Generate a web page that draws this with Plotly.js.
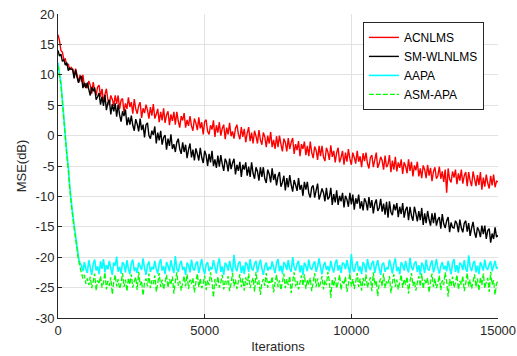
<!DOCTYPE html>
<html>
<head>
<meta charset="utf-8">
<script src="https://cdn.plot.ly/plotly-3.0.1.min.js"></script>
<style>html,body{margin:0;padding:0;background:#fff;}#chart{width:517px;height:356px;}</style>
</head>
<body>
<div id="chart"></div>
<script>
// sample spacing of the curves (iterations between stored points)
const iterStep = 50;

const seriesNames = ['ACNLMS', 'SM-WLNLMS', 'AAPA', 'ASM-APA'];

const acnlms = [
16.6,15.6,14.0,13.7,12.5,12.6,11.5,11.8,10.8,11.2,
10.9,9.7,11.0,10.0,8.8,10.0,8.9,10.0,8.0,8.6,
7.8,9.0,8.3,6.9,8.8,7.4,6.6,8.0,8.3,6.4,
7.7,5.6,6.7,7.7,5.9,5.0,6.6,6.0,4.9,6.6,
5.2,6.6,4.4,5.8,6.1,3.9,5.3,4.4,6.3,4.7,
5.5,3.6,6.0,4.4,3.6,4.9,5.5,2.9,4.5,3.7,
5.1,4.2,2.8,4.7,3.3,5.2,2.8,3.5,4.4,2.2,
3.9,2.5,4.5,2.1,3.4,4.0,1.7,3.5,2.4,3.9,
1.8,3.9,2.4,1.3,3.2,2.5,3.7,1.3,2.6,1.6,
3.2,1.6,0.8,2.8,2.1,0.9,3.0,1.2,2.2,0.2,
2.3,2.6,0.7,0.2,1.7,1.0,2.5,-0.2,1.7,0.5,
2.2,0.0,1.2,1.8,-0.6,1.3,0.2,2.1,-0.1,0.7,
-0.5,1.2,1.8,0.2,-0.6,1.4,-0.2,1.1,-1.1,0.4,
1.4,-0.9,0.5,-1.3,0.8,-0.1,-1.3,0.9,-0.7,-1.5,
0.5,-0.2,-1.9,0.0,-1.3,0.6,-1.9,-0.7,-2.2,-0.1,
-1.9,0.0,-1.4,-2.6,-0.5,-1.1,-2.6,-0.4,-2.2,-1.1,
-0.4,-3.0,-1.4,-2.4,-0.9,-3.4,-1.4,-2.2,-1.0,-3.2,
-1.7,-3.4,-1.0,-2.8,-3.7,-1.8,-2.4,-4.0,-1.7,-3.4,
-1.7,-3.5,-4.2,-2.0,-2.7,-4.0,-1.6,-3.5,-2.5,-4.4,
-2.8,-2.0,-4.4,-3.6,-2.5,-4.8,-2.8,-4.3,-2.2,-3.8,
-4.8,-2.8,-3.6,-4.6,-2.5,-4.3,-3.4,-5.2,-2.9,-4.2,
-2.8,-4.6,-5.4,-3.6,-3.2,-5.2,-4.0,-2.8,-5.3,-4.6,
-3.5,-4.1,-5.6,-3.3,-5.2,-4.7,-3.2,-6.0,-4.1,-5.6,
-3.5,-5.9,-4.4,-5.3,-3.9,-6.3,-4.4,-5.0,-6.2,-3.9,
-5.8,-4.3,-6.7,-4.9,-5.7,-4.3,-6.7,-5.4,-7.0,-4.9,
-5.6,-7.0,-4.8,-6.6,-5.3,-7.5,-5.9,-5.2,-7.1,-6.6,
-5.1,-7.1,-5.9,-7.6,-5.6,-9.4,-5.4,-7.2,-7.7,-5.9,
-6.9,-5.6,-8.0,-6.2,-7.4,-5.6,-7.9,-6.6,-6.0,-8.3,
-6.0,-7.4,-8.3,-5.9,-7.1,-8.3,-6.5,-8.1,-6.0,-8.9,
-6.9,-8.4,-6.4,-7.8,-8.7,-6.6,-8.2,-6.4,-8.5,-7.5,
-7.6];

const smwlnlms = [
14.0,13.1,13.4,12.2,12.5,11.6,12.0,10.7,11.1,10.9,
10.9,9.4,10.8,9.6,8.7,9.5,9.8,7.8,8.7,7.8,
8.7,7.6,6.6,8.0,7.3,7.9,5.9,6.4,7.0,5.1,
6.4,4.9,6.7,4.2,5.4,5.9,3.5,5.2,4.0,5.3,
3.1,5.1,3.4,2.3,4.0,3.2,4.3,1.7,3.0,1.8,
3.3,1.7,0.8,2.7,1.9,0.7,2.8,0.9,1.8,-0.3,
1.8,2.1,0.0,-0.5,0.8,0.1,1.5,-1.3,0.5,-0.8,
0.8,-1.5,-0.3,0.1,-2.3,-0.5,-1.7,0.2,-2.2,-1.4,
-2.7,-1.1,-0.5,-2.2,-3.0,-1.1,-2.7,-1.5,-3.7,-2.3,
-1.3,-3.6,-2.3,-4.1,-2.1,-3.0,-4.1,-2.0,-3.6,-4.5,
-2.5,-3.2,-5.0,-3.0,-4.4,-2.5,-5.0,-3.9,-5.3,-3.3,
-5.1,-3.2,-4.7,-5.8,-3.8,-4.4,-5.9,-3.8,-5.5,-4.5,
-3.8,-6.4,-4.8,-5.8,-4.3,-6.8,-4.8,-5.6,-4.4,-6.6,
-5.1,-6.8,-4.4,-6.2,-7.1,-5.2,-5.9,-7.4,-5.2,-6.8,
-5.2,-7.1,-7.8,-5.6,-6.3,-7.7,-5.4,-7.3,-6.3,-8.2,
-6.7,-6.0,-8.4,-7.7,-6.6,-9.0,-7.0,-8.5,-6.5,-8.1,
-9.2,-7.3,-8.1,-9.1,-7.0,-8.9,-8.1,-9.9,-7.6,-8.9,
-7.6,-9.5,-10.2,-8.5,-8.2,-10.2,-9.0,-7.9,-10.5,-9.7,
-8.7,-9.4,-10.8,-8.6,-10.5,-10.1,-8.6,-11.4,-9.6,-11.0,
-9.0,-11.4,-9.9,-10.8,-9.4,-11.8,-9.9,-10.5,-11.7,-9.4,
-11.3,-9.7,-12.2,-10.3,-11.2,-9.7,-12.0,-10.8,-12.3,-10.3,
-10.9,-12.3,-10.1,-11.9,-10.6,-12.8,-11.2,-10.5,-12.4,-11.9,
-10.4,-12.5,-11.2,-13.0,-10.9,-13.5,-10.8,-12.6,-13.1,-11.3,
-12.3,-11.1,-13.4,-11.7,-12.9,-11.1,-13.5,-12.2,-11.7,-13.9,
-11.7,-13.2,-14.0,-11.7,-12.8,-14.1,-12.4,-13.9,-11.9,-14.7,
-12.8,-14.4,-12.4,-13.8,-14.8,-12.8,-14.4,-12.7,-14.8,-13.8,
-13.4,-15.3,-12.9,-14.5,-15.2,-14.0,-13.4,-15.9,-14.3,-15.1,
-15.2,-14.0,-14.5,-15.9,-13.8,-15.2,-15.9,-14.4,-14.0,-15.8,
-14.4,-16.5,-15.2,-14.2,-15.9,-16.8,-15.1,-15.6,-16.7,-14.8,
-16.2,-14.8,-17.0,-15.6,-15.3,-17.6,-16.1,-17.0,-15.1,-16.7,
-16.4];

const aapa = [
12.0,10.2,8.8,5.9,3.0,0.1,-2.8,-5.0,-8.2,-10.7,-12.8,-14.7,-16.4,-18.2,-20.0,-21.0,
-21.4,-22.3,-20.8,-21.9,-22.6,-20.5,-21.7,-22.9,-21.1,-20.4,
-22.2,-21.5,-22.8,-20.7,-21.9,-20.3,-22.5,-21.3,-22.0,-20.6,
-21.8,-22.9,-20.9,-21.4,-19.9,-22.4,-21.6,-22.7,-20.8,-21.2,
-22.5,-20.5,-21.9,-22.8,-21.0,-20.4,-22.3,-21.7,-22.6,-20.9,
-21.5,-22.1,-20.2,-21.8,-22.9,-21.3,-20.7,-22.4,-21.6,-22.0,
-20.6,-21.9,-22.7,-21.1,-20.3,-22.2,-21.5,-22.8,-20.8,-21.4,
-22.3,-20.5,-21.7,-22.6,-19.8,-21.9,-22.4,-21.2,-20.6,-22.1,
-21.6,-22.9,-20.9,-21.3,-22.5,-20.4,-21.8,-22.2,-21.0,-20.7,
-22.6,-21.4,-20.3,-21.9,-22.8,-21.2,-20.8,-22.3,-21.7,-22.0,
-20.5,-21.6,-22.7,-21.1,-20.2,-22.4,-21.5,-22.9,-20.9,-21.3,
-22.2,-20.6,-21.8,-22.5,-19.6,-21.7,-22.3,-21.0,-20.7,-22.6,
-21.4,-22.8,-20.8,-21.2,-22.4,-20.3,-21.9,-22.1,-21.1,-20.6,
-22.5,-21.3,-20.4,-21.8,-22.9,-21.5,-20.9,-22.2,-21.6,-22.0,
-20.7,-21.7,-22.6,-21.0,-20.3,-22.3,-21.4,-22.7,-20.8,-21.2,
-22.1,-20.5,-21.9,-22.4,-20.0,-21.6,-22.2,-21.1,-20.6,-22.5,
-21.3,-22.9,-20.9,-21.5,-22.3,-20.4,-21.8,-22.0,-21.2,-20.7,
-22.4,-21.6,-20.2,-21.7,-22.8,-21.4,-20.8,-22.1,-21.5,-22.3,
-20.6,-21.8,-22.5,-21.0,-20.4,-22.2,-21.3,-22.6,-20.9,-21.1,
-22.0,-20.5,-21.7,-22.7,-19.5,-21.9,-22.4,-21.2,-20.7,-22.3,
-21.5,-22.8,-20.8,-21.3,-22.5,-20.3,-21.6,-22.1,-21.0,-20.6,
-22.6,-21.4,-20.5,-21.9,-22.9,-21.2,-20.9,-22.4,-21.7,-22.0,
-20.4,-21.5,-22.7,-21.1,-20.2,-22.3,-21.6,-22.8,-20.8,-21.3,
-22.2,-20.6,-21.8,-22.5,-20.1,-21.7,-22.1,-21.0,-20.7,-22.4,
-21.3,-22.9,-20.9,-21.4,-22.6,-20.4,-21.9,-22.2,-21.2,-20.5,
-22.5,-21.6,-20.3,-21.8,-22.7,-21.5,-20.8,-22.0,-21.4,-22.3,
-20.6,-21.7,-22.8,-21.0,-20.3,-22.4,-21.3,-22.6,-20.9,-21.2,
-22.1,-20.5,-21.9,-22.4,-19.7,-21.6,-22.3,-21.1,-20.6,-22.5,
-21.4,-22.8,-20.8,-21.5,-22.2,-20.4,-21.8,-22.0,-21.2,-20.7,
-22.3,-21.5,-20.6,-21.9,-21.6];

const asmapa = [
11.5,9.8,8.3,5.4,2.5,-0.4,-3.3,-5.6,-8.7,-11.2,-13.3,-15.2,-17.0,-18.8,-20.5,-21.6,
-22.6,-23.5,-22.9,-24.4,-23.5,
-24.6,-23.2,-25.1,-24.0,-22.7,-25.5,-23.8,-24.4,-23.1,-25.0,
-24.2,-22.5,-25.3,-23.9,-24.7,-23.3,-26.1,-24.1,-22.9,-24.8,
-23.6,-25.2,-24.3,-22.6,-24.9,-23.7,-25.6,-23.4,-24.5,-22.8,
-25.0,-24.0,-23.3,-25.4,-22.4,-24.6,-23.9,-26.3,-24.2,-23.5,
-24.8,-22.7,-25.1,-23.8,-24.4,-23.0,-25.7,-24.3,-22.6,-24.9,
-23.7,-25.3,-24.1,-22.9,-25.0,-23.6,-24.5,-23.2,-26.0,-24.0,
-22.5,-24.7,-23.9,-25.5,-24.2,-23.1,-24.8,-22.8,-25.2,-23.7,
-24.4,-23.4,-25.8,-24.1,-22.7,-24.9,-23.5,-25.1,-24.3,-23.0,
-25.4,-23.8,-24.6,-22.5,-24.0,-26.6,-23.6,-24.7,-23.2,-25.0,
-24.2,-22.9,-25.3,-23.9,-24.5,-23.1,-25.6,-24.3,-22.6,-24.8,
-23.7,-25.2,-24.0,-22.8,-24.9,-23.5,-25.5,-23.3,-24.6,-22.7,
-25.1,-24.1,-23.4,-25.7,-22.4,-24.5,-23.8,-26.2,-24.3,-23.6,
-24.7,-22.6,-25.0,-23.9,-24.4,-23.2,-25.8,-24.2,-22.9,-24.9,
-23.8,-25.4,-24.1,-22.7,-25.1,-23.6,-24.6,-23.1,-25.9,-24.0,
-22.5,-24.8,-23.9,-25.3,-24.2,-23.0,-24.7,-22.8,-25.2,-23.7,
-24.5,-23.4,-25.6,-24.1,-22.6,-24.9,-23.5,-25.0,-24.3,-23.1,
-25.3,-23.8,-24.6,-22.4,-24.0,-26.7,-23.6,-24.8,-23.3,-25.1,
-24.2,-22.9,-25.4,-23.9,-24.5,-23.2,-25.7,-24.4,-22.7,-24.8,
-23.6,-25.2,-24.0,-22.6,-24.9,-23.5,-25.5,-23.4,-24.7,-22.8,
-25.0,-24.1,-23.3,-25.6,-22.5,-24.6,-23.8,-26.4,-24.2,-23.5,
-24.8,-22.7,-25.1,-23.9,-24.3,-23.1,-25.9,-24.2,-22.8,-24.9,
-23.7,-25.3,-24.1,-22.9,-25.0,-23.6,-24.5,-23.2,-26.0,-24.0,
-22.6,-24.7,-23.9,-25.5,-24.2,-23.1,-24.8,-22.7,-25.2,-23.7,
-24.4,-23.4,-25.8,-24.1,-22.7,-24.9,-23.5,-25.1,-24.3,-23.0,
-25.4,-23.8,-24.6,-22.5,-24.0,-26.5,-23.6,-24.7,-23.2,-25.0,
-24.2,-22.9,-25.3,-23.9,-24.5,-23.1,-25.6,-24.3,-22.6,-24.8,
-23.7,-25.2,-24.0,-22.8,-24.9,-23.5,-25.5,-23.3,-24.6,-22.7,
-25.1,-24.1,-23.4,-25.7,-22.4,-24.5,-23.8,-26.2,-24.3,-24.0];

const xTickVals = [0, 5000, 10000, 15000];
const xTickText = ['0', '5000', '10000', '15000'];
const yTickVals = [-30, -25, -20, -15, -10, -5, 0, 5, 10, 15, 20];
const yTickText = ['-30', '-25', '-20', '-15', '-10', '-5', '0', '5', '10', '15', '20'];

function iters(arr) { return arr.map((_, i) => i * iterStep); }

const colors = ['#ff0000', '#000000', '#00ffff', '#00ff00'];
const widths = [1.4, 1.4, 1.6, 1.3];
const allSeries = [acnlms, smwlnlms, aapa, asmapa];

const traces = allSeries.map((ys, k) => ({
  type: 'scatter', mode: 'lines',
  name: seriesNames[k],
  x: iters(ys), y: ys,
  line: { color: colors[k], width: widths[k], simplify: false, dash: k === 3 ? '5px,2px' : 'solid' }
}));

const axisCommon = {
  showline: true, linecolor: '#262626', linewidth: 1,
  ticks: 'inside', ticklen: 4, tickcolor: '#262626', tickwidth: 1,
  showgrid: true, gridcolor: '#e2e2e2', gridwidth: 1,
  zeroline: false, tickfont: { size: 13, color: '#262626' }
};

const layout = {
  width: 517, height: 356,
  margin: { l: 58, r: 19, t: 14, b: 38 },
  paper_bgcolor: '#ffffff', plot_bgcolor: '#ffffff',
  font: { family: '"Liberation Sans", Arial, sans-serif', size: 12, color: '#262626' },
  showlegend: true,
  legend: {
    x: 0.968, xanchor: 'right', y: 0.974, yanchor: 'top',
    bgcolor: '#ffffff', bordercolor: '#262626', borderwidth: 1,
    font: { size: 12, color: '#000000' }, itemwidth: 30
  },
  xaxis: Object.assign({}, axisCommon, {
    range: [0, 15000], tickmode: 'array', tickvals: xTickVals, ticktext: xTickText,
    title: { text: 'Iterations', font: { size: 13, color: '#262626' }, standoff: 5 }
  }),
  yaxis: Object.assign({}, axisCommon, {
    range: [-30, 20], tickmode: 'array', tickvals: yTickVals, ticktext: yTickText,
    title: { text: 'MSE(dB)', font: { size: 13, color: '#262626' }, standoff: 6 }
  })
};

Plotly.newPlot('chart', traces, layout, { displayModeBar: false, staticPlot: true });
</script>
</body>
</html>
